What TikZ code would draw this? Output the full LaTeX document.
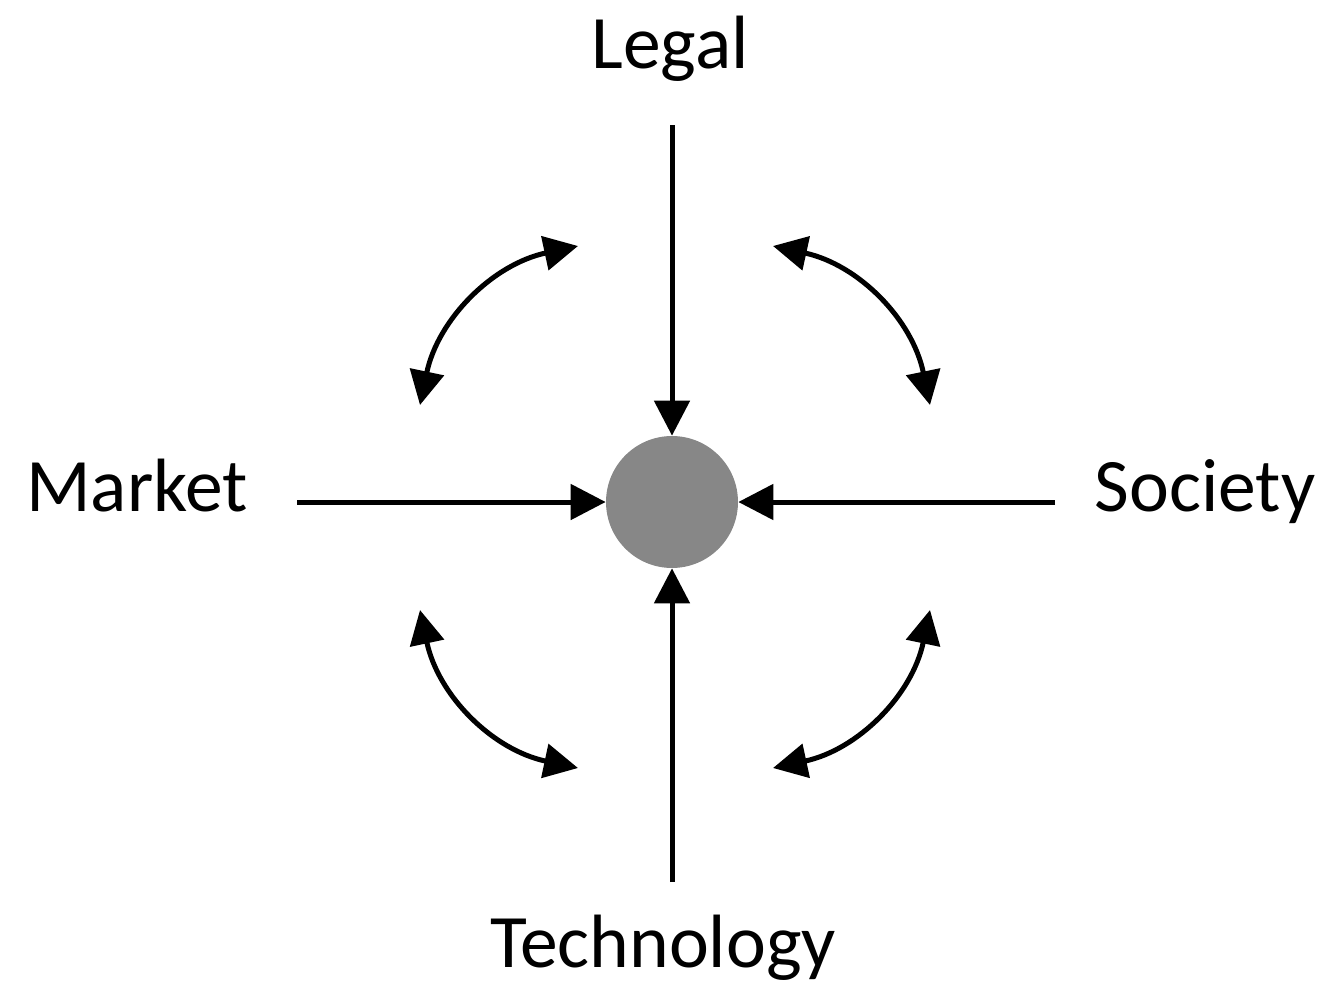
\documentclass[tikz,border=0pt]{standalone}
\usepackage{fontspec}
\setmainfont{Carlito}
\usetikzlibrary{arrows.meta}
\begin{document}
\begin{tikzpicture}[x=0.02cm, y=-0.02cm,
	label/.style={anchor=base, inner sep=0pt, font=\fontsize{43}{50}\selectfont},
	hubdot/.style={circle, fill=black!47, minimum size=2.64cm, inner sep=0pt},
	force/.style={line width=0.1cm, -{Triangle[length=0.7cm, width=0.7cm]}},
	swap/.style={line width=0.1cm, {Triangle[length=0.68cm, width=0.68cm]}-{Triangle[length=0.68cm, width=0.68cm]}}]
	\useasboundingbox (0,0) rectangle (1322,987);
	\node[hubdot] (hub) at (672,502) {};
	\node[label] (legal) at (670,68) {Legal};
	\node[label] (tech) at (663,967) {Technology};
	\node[label] (market) at (137,511) {Market};
	\node[label] (society) at (1205,511) {Society};
	\coordinate (legalend) at (672,125);
	\coordinate (techend) at (672,882);
	\coordinate (marketend) at (297,502);
	\coordinate (societyend) at (1055,502);
	\draw[force] (legalend) -- (hub);
	\draw[force] (techend) -- (hub);
	\draw[force] (marketend) -- (hub);
	\draw[force] (societyend) -- (hub);
	\coordinate (tl1) at (420,405);
	\coordinate (tl2) at (578,246);
	\coordinate (tr1) at (773,246);
	\coordinate (tr2) at (930,405);
	\coordinate (br1) at (930,610);
	\coordinate (br2) at (773,768);
	\coordinate (bl1) at (578,768);
	\coordinate (bl2) at (420,610);
	\draw[swap] (tl1) to[bend left=33] (tl2);
	\draw[swap] (tr1) to[bend left=33] (tr2);
	\draw[swap] (br1) to[bend left=33] (br2);
	\draw[swap] (bl1) to[bend left=33] (bl2);
\end{tikzpicture}
\end{document}
